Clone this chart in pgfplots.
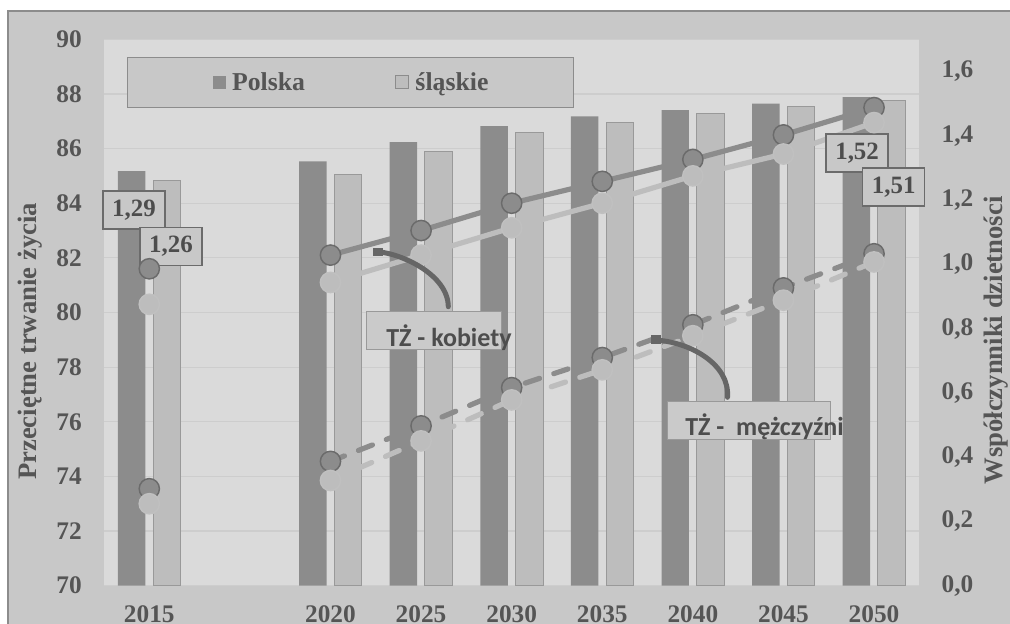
\documentclass[border=0pt]{standalone}
\usepackage{fontspec}
\setmainfont{Liberation Serif}
\newfontfamily\carlito{Carlito}
\usepackage{pgfplots}
\pgfplotsset{compat=1.18}
\definecolor{outerbg}{HTML}{C8C8C8}
\definecolor{plotbg}{HTML}{DADADA}
\definecolor{gridc}{HTML}{CDCDCD}
\definecolor{dark}{HTML}{8C8C8C}
\definecolor{light}{HTML}{BDBDBD}
\definecolor{lightmk}{HTML}{C0C0C0}
\definecolor{mkborder}{HTML}{6B6B6B}
\definecolor{barborder}{HTML}{999999}
\definecolor{frame}{HTML}{8C8C8C}
\definecolor{txt}{HTML}{555555}
\definecolor{annot}{HTML}{4D4D4D}
\definecolor{lblborder}{HTML}{6B6B6B}
\definecolor{boxfill}{HTML}{CACACA}
\definecolor{arrowc}{HTML}{666666}

\pgfplotstableread{
x Polska slaskie
0 1.29 1.26
2 1.32 1.28
3 1.38 1.35
4 1.43 1.41
5 1.46 1.44
6 1.48 1.47
7 1.50 1.49
8 1.52 1.51
}\fertility

\pgfplotstableread{
x kP kS mP mS
0 81.6 80.3 73.55 73.0
1 nan nan nan nan
2 82.1 81.1 74.55 73.85
3 83.0 82.1 75.85 75.3
4 84.0 83.1 77.25 76.8
5 84.8 84.0 78.35 77.9
6 85.6 85.0 79.55 79.15
7 86.5 85.8 80.9 80.45
8 87.5 86.95 82.15 81.85
}\life

\newcommand{\tickfont}{\bfseries\fontsize{19}{21}\selectfont}
\newcommand{\legfont}{\bfseries\fontsize{19.3}{21}\selectfont}
\newcommand{\lblfont}{\bfseries\fontsize{18.7}{21}\selectfont}
\newcommand{\titlefont}{\bfseries\fontsize{20}{22}\selectfont}

\begin{document}
\begin{tikzpicture}[x=0.75pt,y=0.75pt]
\useasboundingbox (0,0) rectangle (1010,624);
\clip (0,0) rectangle (1010,624);
\fill[white] (0,0) rectangle (1010,624);
\draw[draw=frame, fill=outerbg, line width=0.9pt] (8,-10) rectangle (1030,613);

\pgfplotsset{base/.style={scale only axis, width=611.5pt, height=409.8pt,
  at={(78pt,28.725pt)}, anchor=south west, xmin=-0.5, xmax=8.5, clip=false}}

% axis A: background, grid, left ticks, x ticks
\begin{axis}[base, ymin=70, ymax=90, ytick={70,72,...,90},
  xtick={0,2,3,4,5,6,7,8},
  xticklabels={2015,2020,2025,2030,2035,2040,2045,2050},
  ymajorgrids, grid style={draw=gridc, line width=0.9pt},
  axis line style={draw=none}, major tick length=0pt,
  axis background/.style={fill=plotbg},
  tick label style={font=\tickfont, text=txt, inner sep=0pt},
  /pgf/number format/assume math mode=true,
  yticklabel style={anchor=east, xshift=-16.5pt},
  xticklabel style={anchor=base, yshift=-27.6pt},
  ylabel={Przeciętne trwanie życia},
  ylabel style={at={(axis description cs:-0.0908,0.447)}, anchor=center,
    font=\titlefont, text=txt}]
\end{axis}

% axis B: bars on right scale
\begin{axis}[base, ymin=0, ymax=1.7,
  ytick={0,0.2,0.4,0.6,0.8,1.0,1.2,1.4,1.6},
  yticklabel pos=right, hide x axis,
  axis line style={draw=none}, major tick length=0pt,
  tick label style={font=\tickfont, text=txt, inner sep=0pt},
  yticklabel style={anchor=west, xshift=16.5pt,
    /pgf/number format/.cd, fixed, fixed zerofill, precision=1, use comma, assume math mode=true},
  ylabel={Współczynniki dzietności},
  ylabel style={at={(axis description cs:1.094,0.4488)}, anchor=center,
    font=\titlefont, text=txt},
  legend columns=2,
  legend style={at={(axis description cs:0.0278,0.967)}, anchor=north west,
    draw=dark, fill=outerbg, line width=0.75pt,
    inner xsep=64pt, inner ysep=11pt,
    font=\legfont, text=txt, nodes={inner sep=0pt},
    /tikz/every odd column/.append style={column sep=4.9pt},
    /tikz/every even column/.append style={column sep=67.5pt}}]
\addplot[ybar, bar width=20.6pt, bar shift=-13.2pt, fill=dark, draw=none,
  legend image code/.code={\fill[dark] (0pt,-4.9pt) rectangle (9.75pt,4.9pt);}]
  table[x=x, y=Polska] {\fertility};
\addlegendentry{Polska}
\addplot[ybar, bar width=20.6pt, bar shift=13.2pt, fill=light, draw=barborder, line width=0.75pt,
  legend image code/.code={\filldraw[fill=light, draw=dark, line width=0.75pt] (0pt,-4.9pt) rectangle (9.75pt,4.9pt);}]
  table[x=x, y=slaskie] {\fertility};
\addlegendentry{śląskie}
\end{axis}

% axis C: life expectancy lines
\begin{axis}[base, ymin=70, ymax=90, hide axis, unbounded coords=jump]
\addplot[draw=dark, line width=3.9pt, mark=*, mark size=7.6pt,
  mark options={fill=dark, draw=mkborder, line width=1.1pt, solid}]
  table[x=x, y=kP] {\life};
\addplot[draw=light, line width=3.9pt, mark=*, mark size=7.6pt,
  mark options={fill=light, draw=lightmk, line width=1.1pt, solid}]
  table[x=x, y=kS] {\life};
\addplot[draw=dark, line width=3.9pt, line cap=round, dash pattern=on 11.25pt off 11.25pt,
  mark=*, mark size=7.6pt,
  mark options={fill=dark, draw=mkborder, line width=1.1pt, solid}]
  table[x=x, y=mP] {\life};
\addplot[draw=light, line width=3.9pt, line cap=round, dash pattern=on 11.25pt off 11.25pt,
  mark=*, mark size=7.6pt,
  mark options={fill=light, draw=lightmk, line width=1.1pt, solid}]
  table[x=x, y=mS] {\life};

\tikzset{lbl/.style={draw=lblborder, fill=outerbg, line width=1.1pt,
  minimum width=46.5pt, minimum height=28.5pt, inner sep=0pt,
  font=\lblfont, text=annot}}
\node[lbl] at (axis cs:-0.169,83.76) {1,29};
\node[lbl] at (axis cs:0.2395,82.41) {1,26};
\node[lbl] at (axis cs:7.813,85.83) {1,52};
\node[lbl] at (axis cs:8.217,84.60) {1,51};
\end{axis}

% annotations
\draw[draw=barborder, fill=boxfill, line width=0.75pt] (366.7,274) rectangle (501,312.3);
\node[anchor=base west, inner sep=0pt, text=annot, font=\carlito\bfseries\fontsize{19.5}{21}\selectfont]
  at (386,277.3) {TŻ - kobiety};
\draw[draw=barborder, fill=boxfill, line width=0.75pt] (667.7,184) rectangle (830,222.3);
\node[anchor=base west, inner sep=0pt, text=annot, font=\carlito\bfseries\fontsize{19.5}{21}\selectfont]
  at (685,188) {TŻ -~~mężczyźni};

\draw[arrowc, line width=3.75pt, line cap=round]
  (376.7,372.3) .. controls (400,371) and (448,350) .. (448.3,317.3);
\fill[arrowc] (373,367.5) rectangle (383,376);
\draw[arrowc, line width=3.75pt, line cap=round]
  (655,284) .. controls (690,282) and (730,260) .. (727.5,226.7);
\fill[arrowc] (651,280) rectangle (661,288.5);
\end{tikzpicture}
\end{document}
